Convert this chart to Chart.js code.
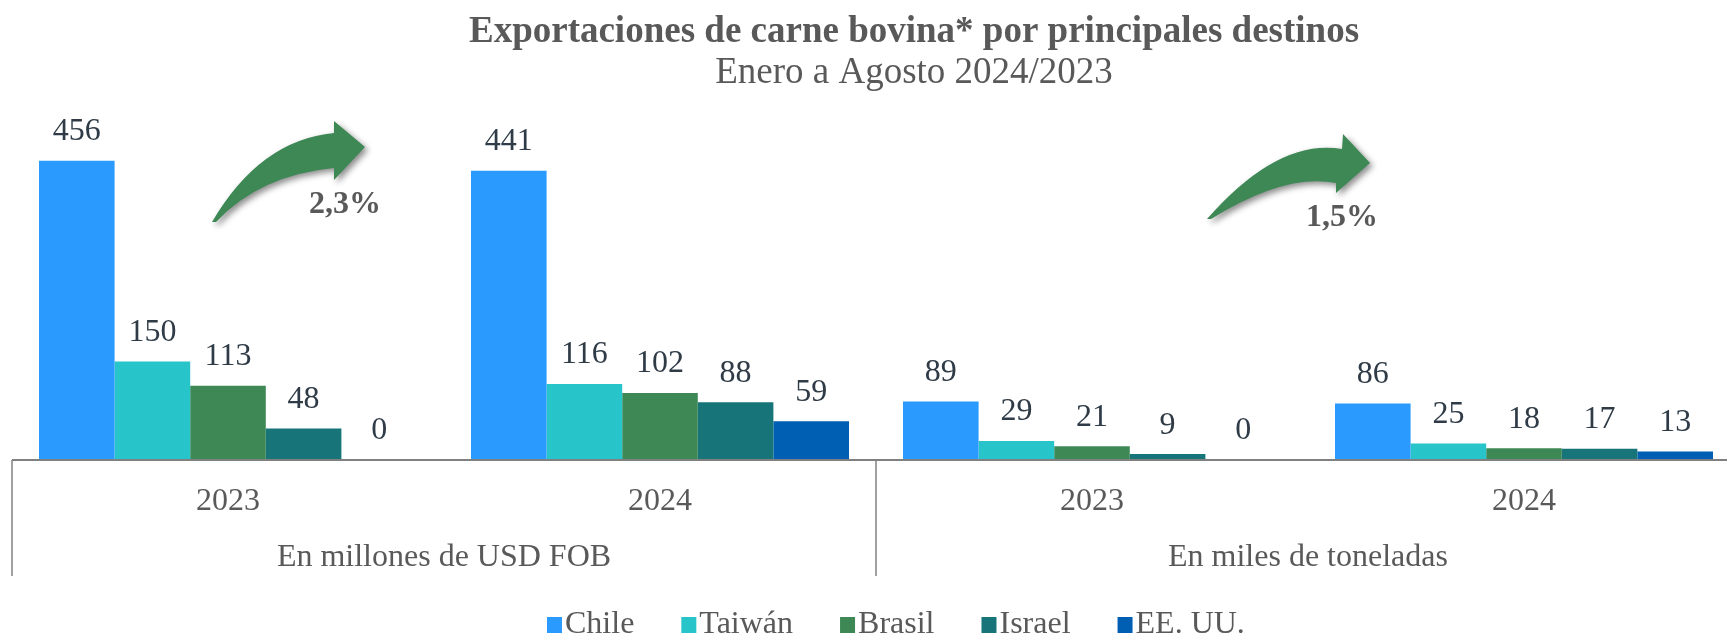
<!DOCTYPE html>
<html>
<head>
<meta charset="utf-8">
<script src="https://cdn.jsdelivr.net/npm/chart.js@4"></script>
<style>
  html, body { margin: 0; padding: 0; background: #fff; overflow: hidden; }
  #wrap { width: 1745px; height: 638px; }
</style>
</head>
<body>
<div id="wrap"><canvas id="myChart"></canvas></div>
<script>
const categorias = ['2023', '2024', '2023', '2024']
const grupos = ['En millones de USD FOB', 'En miles de toneladas']
const paises = ['Chile', 'Taiwán', 'Brasil', 'Israel', 'EE. UU.']
const chile = [456, 441, 89, 86]
const taiwan = [150, 116, 29, 25]
const brasil = [113, 102, 21, 18]
const israel = [48, 88, 9, 17]
const eeuu = [0, 59, 0, 13]
const variaciones = ['2,3%', '1,5%']

const colores = ['#2b9afe', '#27c4ca', '#3e8856', '#17757a', '#005eb3']
const serif = '"Liberation Serif", "Times New Roman", serif'
const gris = '#595959'

// curved green arrows (decoration, not data)
const flechas = [
  { tail: [212, 222], c1: [260, 140], s1: [334, 133], h1: [334, 121], tip: [365, 147], h2: [334, 180], s2: [334, 168], c2: [260, 175], tail2: [216, 222], txt: [345, 205] },
  { tail: [1207, 219], c1: [1278, 138], s1: [1342, 149], h1: [1343, 134], tip: [1370, 163], h2: [1336, 193], s2: [1336, 183], c2: [1285, 173], tail2: [1211, 219], txt: [1342, 218] }
]

const dibujarFlecha = (ctx, p) => {
  ctx.save()
  ctx.shadowColor = 'rgba(0,0,0,0.45)'
  ctx.shadowBlur = 6
  ctx.shadowOffsetX = 3
  ctx.shadowOffsetY = 3
  ctx.fillStyle = '#3e8856'
  ctx.beginPath()
  ctx.moveTo(...p.tail)
  ctx.quadraticCurveTo(...p.c1, ...p.s1)
  ctx.lineTo(...p.h1)
  ctx.lineTo(...p.tip)
  ctx.lineTo(...p.h2)
  ctx.lineTo(...p.s2)
  ctx.quadraticCurveTo(...p.c2, ...p.tail2)
  ctx.closePath()
  ctx.fill()
  ctx.restore()
}

const decor = {
  id: 'decor',
  afterDatasetsDraw(chart) {
    const { ctx } = chart
    ctx.save()
    ctx.font = '32px ' + serif
    ctx.fillStyle = '#2f3b46'
    ctx.textAlign = 'center'
    ctx.textBaseline = 'middle'
    chart.data.datasets.forEach((ds, i) => {
      chart.getDatasetMeta(i).data.forEach((bar, j) => {
        ctx.fillText(ds.data[j], bar.x, bar.y - 29)
      })
    })
    ctx.restore()
  },
  afterDraw(chart) {
    const { ctx, chartArea, scales } = chart
    const x = scales.x, x2 = scales.x2
    ctx.save()

    // titles
    ctx.fillStyle = gris
    ctx.textAlign = 'center'
    ctx.textBaseline = 'middle'
    ctx.font = 'bold 37px ' + serif
    ctx.fillText('Exportaciones de carne bovina* por principales destinos', 914, 32)
    ctx.font = '37px ' + serif
    ctx.fillText('Enero a Agosto 2024/2023', 914, 73)

    // axis line + group dividers
    ctx.strokeStyle = '#808080'
    ctx.lineWidth = 2
    ctx.beginPath()
    ctx.moveTo(chartArea.left, chartArea.bottom)
    ctx.lineTo(chartArea.right, chartArea.bottom)
    ctx.stroke()
    const mid = (x.getPixelForValue(1) + x.getPixelForValue(2)) / 2
    ctx.lineWidth = 1.5
    ;[chartArea.left, mid, chartArea.right].forEach(px => {
      ctx.beginPath()
      ctx.moveTo(px, chartArea.bottom)
      ctx.lineTo(px, x2.bottom)
      ctx.stroke()
    })

    // arrows and percentages
    flechas.forEach((f, i) => {
      dibujarFlecha(ctx, f)
      ctx.fillStyle = gris
      ctx.font = 'bold 32px ' + serif
      ctx.fillText(variaciones[i], ...f.txt)
    })

    // legend
    ctx.font = '32px ' + serif
    ctx.textAlign = 'left'
    let lx = 547
    const ly = 625
    chart.data.datasets.forEach(ds => {
      ctx.fillStyle = ds.backgroundColor
      ctx.fillRect(lx, ly - 8, 15, 16)
      ctx.fillStyle = gris
      ctx.fillText(ds.label, lx + 18, ly)
      lx += 18 + ctx.measureText(ds.label).width + 47
    })
    ctx.restore()
  }
}

const series = [chile, taiwan, brasil, israel, eeuu]

new Chart(document.getElementById('myChart'), {
  type: 'bar',
  data: {
    labels: categorias,
    datasets: series.map((d, i) => ({
      label: paises[i],
      data: d,
      backgroundColor: colores[i],
      borderWidth: 0,
      categoryPercentage: 0.875,
      barPercentage: 1
    }))
  },
  options: {
    responsive: true,
    maintainAspectRatio: false,
    animation: false,
    layout: { padding: { top: 132, left: 12, right: 5, bottom: 62 } },
    plugins: {
      legend: { display: false },
      tooltip: { enabled: false },
      title: { display: false }
    },
    scales: {
      y: { display: false, min: 0, max: 500 },
      x: {
        weight: 0,
        grid: { display: false, drawTicks: false },
        border: { display: false },
        ticks: { color: gris, font: { family: serif, size: 32 }, padding: 22 },
        afterFit: s => { s.height = 60 }
      },
      x2: {
        type: 'category',
        labels: grupos,
        position: 'bottom',
        offset: true,
        weight: 1,
        grid: { display: false, drawTicks: false },
        border: { display: false },
        ticks: { color: gris, font: { family: serif, size: 32 }, padding: 18 },
        afterFit: s => { s.height = 56 }
      }
    }
  },
  plugins: [decor]
})
</script>
</body>
</html>
